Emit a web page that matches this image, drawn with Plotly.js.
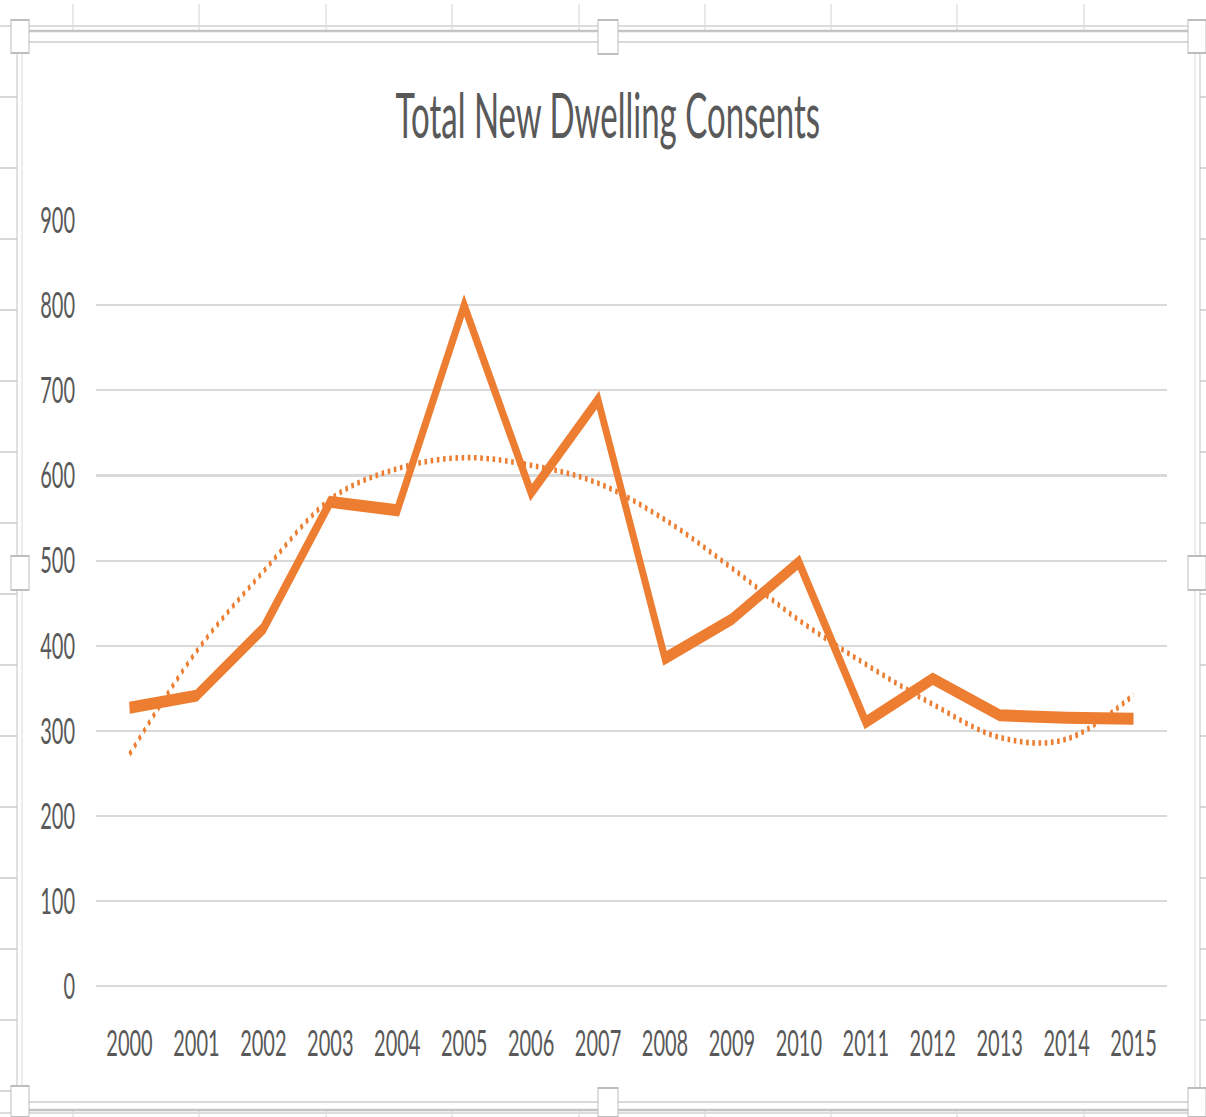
<!DOCTYPE html>
<html>
<head>
<meta charset="utf-8">
<script src="https://cdn.plot.ly/plotly-3.0.1.min.js"></script>
<style>
  html, body { margin: 0; padding: 0; background: #ffffff; }
  #frame { width: 1206px; height: 1117px; overflow: hidden; position: relative; }
  #chart {
    width: 1206px;
    height: 604px;
    transform: scaleY(1.84934);
    transform-origin: 0 0;
  }
</style>
</head>
<body>
<div id="frame"><div id="chart"></div></div>
<script>
// Total new dwelling consents per year
const years = ['2000', '2001', '2002', '2003', '2004', '2005', '2006', '2007',
               '2008', '2009', '2010', '2011', '2012', '2013', '2014', '2015'];
const consents = [327, 341, 420, 569, 559, 800, 580, 689,
                  385, 431, 498, 310, 361, 318, 315, 314];
// Polynomial trend line, sampled at each year
const trend = [272, 393, 487, 572, 608, 621, 612, 591,
               548, 491, 430, 378, 331, 292, 290, 342];
const yTicks = [0, 100, 200, 300, 400, 500, 600, 700, 800, 900];

const W = 1206, H = 604, S = 1117 / 604;
const M = { l: 96, r: 39, t: 119, b: 71 };
const PW = W - M.l - M.r, PH = H - M.t - M.b;

// worksheet frame around the chart, given in screen pixels
const px = x => (x - M.l) / PW;
const py = y => (H - M.b - y / S) / PH;
const shapes = [];
function line(x0, y0, x1, y1, color, width) {
  shapes.push({ type: 'line', xref: 'paper', yref: 'paper', layer: 'below',
    x0: px(x0), y0: py(y0), x1: px(x1), y1: py(y1),
    line: { color: color, width: width } });
}
function box(x0, y0, x1, y1, color, fill) {
  shapes.push({ type: 'rect', xref: 'paper', yref: 'paper', layer: 'above',
    x0: px(x0), y0: py(y0), x1: px(x1), y1: py(y1),
    line: { color: color, width: 1 }, fillcolor: fill });
}
const cols = [73, 199, 326, 452, 579, 705, 831, 957, 1084];
cols.forEach(c => { line(c, 4, c, 31, '#d4d4d4', 1); line(c, 1111, c, 1117, '#d4d4d4', 1); });
for (let r = 97; r < 1100; r += 71) { line(0, r, 17, r, '#d4d4d4', 1); line(1200, r, 1206, r, '#d4d4d4', 1); }
line(0, 26, 1206, 26, '#dcdcdc', 1);
line(0, 1113, 1206, 1113, '#dcdcdc', 1);
// selection outline
line(17, 31, 1200, 31, '#c4c4c4', 1.4);
line(17, 31, 17, 1110, '#c4c4c4', 1);
line(1200, 31, 1200, 1110, '#c4c4c4', 1);
line(17, 1110, 1200, 1110, '#c4c4c4', 1.4);
// chart area border
line(22, 42, 1195, 42, '#d9d9d9', 1);
line(22, 42, 22, 1102, '#d9d9d9', 1);
line(1195, 42, 1195, 1102, '#d9d9d9', 1);
line(22, 1102, 1195, 1102, '#d9d9d9', 1);
// sizing handles
[[11, 20, 29, 53], [598, 20, 618, 54], [1188, 20, 1206, 53],
 [11, 556, 29, 590], [1188, 556, 1206, 590],
 [11, 1086, 29, 1117], [598, 1088, 618, 1117], [1188, 1088, 1206, 1117]]
  .forEach(b => box(b[0], b[1], b[2], b[3], '#bdbdbd', '#ffffff'));

const traces = [
  {
    x: years, y: consents, type: 'scatter', mode: 'lines',
    line: { color: '#ED7D31', width: 6.5, shape: 'linear' },
    hoverinfo: 'x+y', showlegend: false
  },
  {
    x: years, y: trend, type: 'scatter', mode: 'lines',
    line: { color: '#ED7D31', width: 3, dash: '2.6px,3.6px', shape: 'spline', smoothing: 1 },
    hoverinfo: 'skip', showlegend: false
  }
];

const axisFont = { family: 'Lato, "Open Sans", sans-serif', size: 20, color: '#595959' };

const layout = {
  width: W, height: H,
  margin: M,
  paper_bgcolor: '#ffffff', plot_bgcolor: '#ffffff',
  title: {
    text: 'Total New Dwelling Consents',
    font: { family: 'Lato, "Open Sans", sans-serif', size: 33, color: '#595959' },
    xref: 'container', yref: 'container', x: 0.504, xanchor: 'center',
    y: 1 - 63 / H, yanchor: 'middle'
  },
  xaxis: {
    type: 'category', range: [-0.5, 15.5],
    showgrid: false, zeroline: false, showline: false, ticks: '',
    tickfont: axisFont, ticklabelstandoff: 17, fixedrange: true
  },
  yaxis: {
    range: [0, 900.4], tickvals: yTicks, ticktext: yTicks.map(String),
    showgrid: true, gridcolor: '#d9d9d9', gridwidth: 1.1,
    zeroline: true, zerolinecolor: '#d9d9d9', zerolinewidth: 1.1,
    showline: false, ticks: '',
    tickfont: axisFont, ticklabelstandoff: 20, fixedrange: true
  },
  shapes: shapes,
  showlegend: false
};

Plotly.newPlot('chart', traces, layout, { displayModeBar: false, staticPlot: true });
</script>
</body>
</html>
